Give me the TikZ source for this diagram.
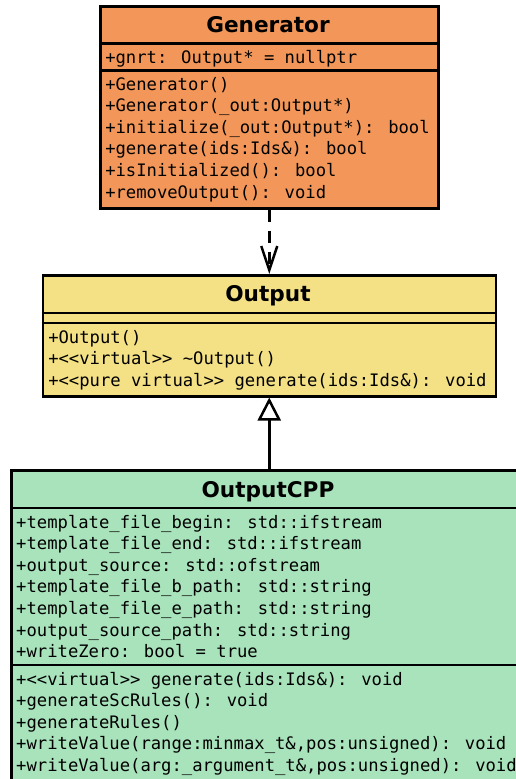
\documentclass[tikz,border=0pt]{standalone}
\usepackage{fontspec}
\newfontfamily\umlmono{DejaVu Sans Mono}
\newfontfamily\umlsans{DejaVu Sans}
\usetikzlibrary{arrows.meta}

\definecolor{genfill}{RGB}{242,151,89}
\definecolor{outfill}{RGB}{244,225,133}
\definecolor{cppfill}{RGB}{168,227,187}

\tikzset{
  classbox/.style={draw,line width=2.5pt,anchor=north west,inner sep=0pt},
  classname/.style={font=\umlsans\bfseries\fontsize{21.6}{24}\selectfont,inner sep=0pt,anchor=base},
  members/.style={font=\umlmono\fontsize{17.2}{21.6}\selectfont,align=left,inner sep=0pt,anchor=base west},
  sepline/.style={line width=2.5pt}
}

\begin{document}
\begin{tikzpicture}[x=1pt,y=-1pt,every path/.style={line width=2.5pt}]
  \useasboundingbox (0,0) rectangle (515,779);

  % Generator (members placed by the baseline of their last line)
  \node[classbox,fill=genfill,minimum width=338pt,minimum height=202pt] (gen) at (99,5) {};
  \node[classname] (genname) at (268,32) {Generator};
  \draw[sepline] (gen.north west) ++(0,38.5) -- ++(338,0);
  \draw[sepline] (gen.north west) ++(0,65.5) -- ++(338,0);
  \node[members] (genattr) at (104,63) {+gnrt: Output* = nullptr};
  \node[members] (genops) at (104,198) {+Generator()\\
    +Generator(\_out:Output*)\\
    +initialize(\_out:Output*): bool\\
    +generate(ids:Ids\&): bool\\
    +isInitialized(): bool\\
    +removeOutput(): void};

  % Output
  \node[classbox,fill=outfill,minimum width=453pt,minimum height=121pt] (out) at (41.5,274) {};
  \node[classname] (outname) at (268,301) {Output};
  \draw[sepline] (out.north west) ++(0,39) -- ++(453,0);
  \draw[sepline] (out.north west) ++(0,49) -- ++(453,0);
  \node[members] (outops) at (47,386.2) {+Output()\\
    +{<}{<}virtual{>}{>} \textasciitilde Output()\\
    +{<}{<}pure virtual{>}{>} generate(ids:Ids\&): void};

  % OutputCPP
  \node[classbox,fill=cppfill,minimum width=516pt,minimum height=330pt] (cpp) at (10,469) {};
  \node[classname] (cppname) at (268,497) {OutputCPP};
  \draw[sepline] (cpp.north west) ++(0,39) -- ++(516,0);
  \draw[sepline] (cpp.north west) ++(0,196) -- ++(516,0);
  \node[members] (cppattr) at (15,657.6) {+template\_file\_begin: std::ifstream\\
    +template\_file\_end: std::ifstream\\
    +output\_source: std::ofstream\\
    +template\_file\_b\_path: std::string\\
    +template\_file\_e\_path: std::string\\
    +output\_source\_path: std::string\\
    +writeZero: bool = true};
  \node[members] (cppops) at (15,771.4) {+{<}{<}virtual{>}{>} generate(ids:Ids\&): void\\
    +generateScRules(): void\\
    +generateRules()\\
    +writeValue(range:minmax\_t\&,pos:unsigned): void\\
    +writeValue(arg:\_argument\_t\&,pos:unsigned): void};

  % relations
  \draw[dash pattern=on 12pt off 9pt,-{Straight Barb[length=24pt,width=16pt]}] (gen) -- (out);
  \draw[-{Triangle[open,fill=white,length=23pt,width=23pt]}] (cpp) -- (out);
\end{tikzpicture}
\end{document}
